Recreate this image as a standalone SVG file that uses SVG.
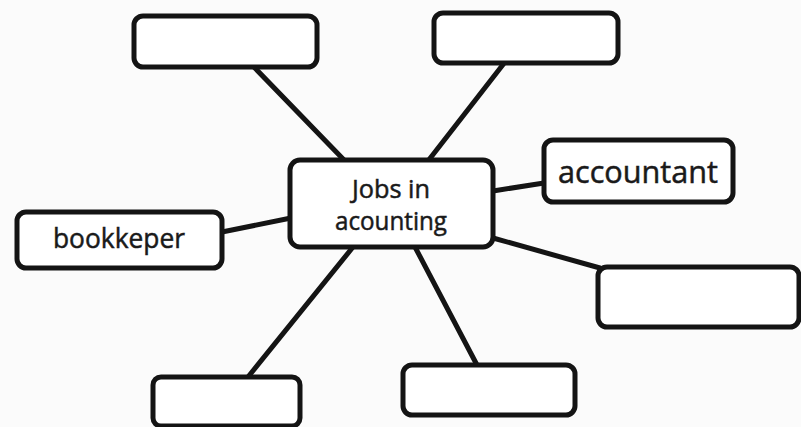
<svg xmlns="http://www.w3.org/2000/svg" width="801" height="427" viewBox="0 0 801 427">
<style>
.box{fill:#ffffff;stroke:#141414;stroke-width:5;}
.ln{stroke:#141414;stroke-width:5;stroke-linecap:round;fill:none;}
.t{font-family:"Open Sans","Liberation Sans",sans-serif;fill:#1a1a1a;stroke:#1a1a1a;stroke-width:0.5;text-anchor:middle;}
</style>
<rect x="0" y="0" width="801" height="427" fill="#fbfbfb"/>
<g id="connectors">
<line class="ln" x1="253" y1="66" x2="345" y2="161"/>
<line class="ln" x1="505" y1="62" x2="428" y2="161"/>
<line class="ln" x1="493" y1="191" x2="544" y2="183"/>
<line class="ln" x1="222" y1="232" x2="291" y2="218"/>
<line class="ln" x1="493" y1="238" x2="600" y2="268"/>
<line class="ln" x1="353" y1="247" x2="248" y2="377"/>
<line class="ln" x1="415" y1="247" x2="477" y2="365"/>
</g>
<g id="node-top-left"><rect class="box" x="134" y="16" width="183" height="51" rx="9"/></g>
<g id="node-top-right"><rect class="box" x="434" y="13" width="184" height="50" rx="9"/></g>
<g id="node-accountant"><rect class="box" x="544" y="140" width="189" height="62" rx="9"/>
<text class="t" x="638" y="183" font-size="31" textLength="160" lengthAdjust="spacingAndGlyphs">accountant</text></g>
<g id="node-center"><rect class="box" x="290" y="160" width="203" height="87" rx="10"/>
<text class="t" x="391" y="198" font-size="25" textLength="78" lengthAdjust="spacingAndGlyphs">Jobs in</text>
<text class="t" x="391" y="230" font-size="25" textLength="112" lengthAdjust="spacingAndGlyphs">acounting</text></g>
<g id="node-bookkeper"><rect class="box" x="17" y="212" width="205" height="56" rx="9"/>
<text class="t" x="119" y="248" font-size="27" textLength="132" lengthAdjust="spacingAndGlyphs">bookkeper</text></g>
<g id="node-right"><rect class="box" x="598" y="267" width="201" height="60" rx="9"/></g>
<g id="node-bottom-left"><rect class="box" x="153" y="377" width="147" height="49" rx="8"/></g>
<g id="node-bottom-middle"><rect class="box" x="403" y="365" width="172" height="50" rx="9"/></g>
</svg>
